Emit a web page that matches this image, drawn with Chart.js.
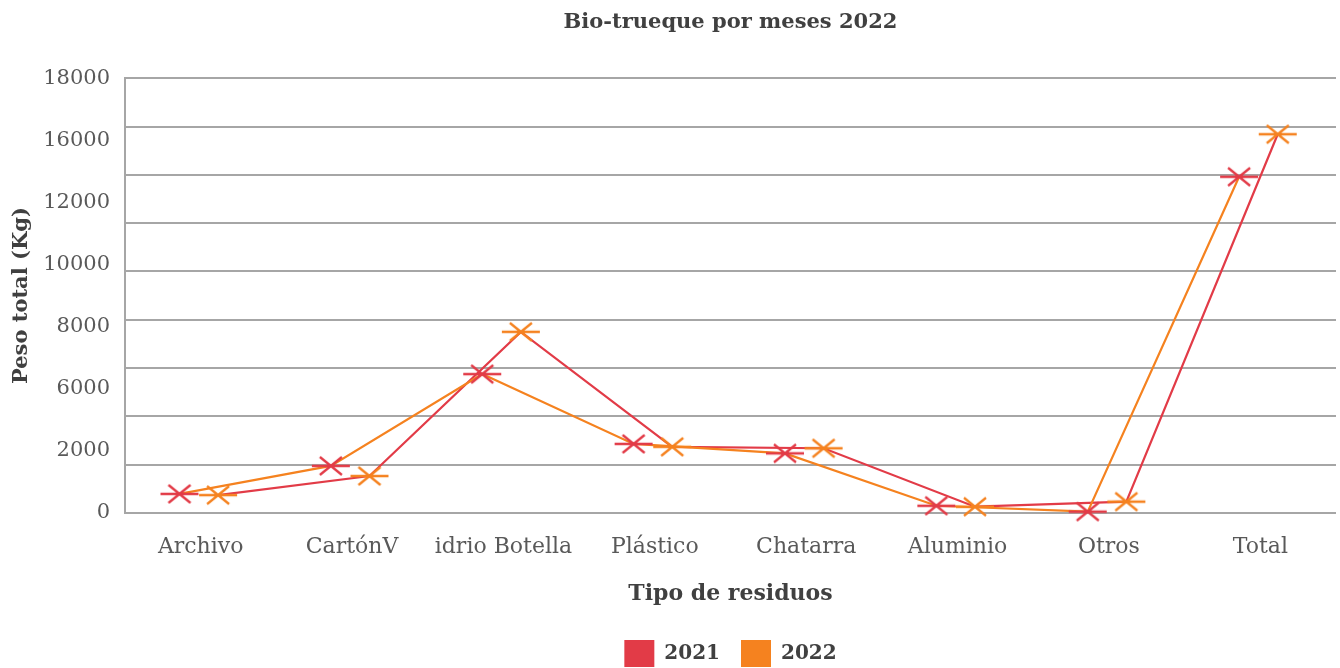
<!DOCTYPE html>
<html><head><meta charset="utf-8">
<script src="https://cdn.jsdelivr.net/npm/chart.js@4"></script>
<style>html,body{margin:0;padding:0;background:#fff}</style>
</head><body>
<canvas id="c" width="1340" height="668"></canvas>
<script>
const categories = ['Archivo','CartónV','idrio Botella','Plástico','Chatarra','Aluminio','Otros','Total'];
const values2021 = [790, 1950, 5750, 2860, 2470, 300, 55, 13920];
const values2022 = [740, 1530, 7500, 2740, 2680, 260, 470, 15680];
const yTickLabels = ['0','2000','6000','8000','10000','12000','16000','18000'];
const seriesNames = ['2021','2022'];

const RED = '#E23B47';
const ORANGE = '#F5821F';
const FAM = "'DejaVu Serif', serif";

function makeMarker(color){
  const c = document.createElement('canvas'); c.width = 40; c.height = 22;
  const g = c.getContext('2d'); g.strokeStyle = color; g.lineWidth = 2.3;
  g.beginPath();
  g.moveTo(1, 11); g.lineTo(39, 11);
  g.moveTo(9, 2); g.lineTo(31, 20);
  g.moveTo(31, 2); g.lineTo(9, 20);
  g.stroke();
  return c;
}

new Chart(document.getElementById('c'), {
  type: 'line',
  data: {
    datasets: [
      { label: seriesNames[0], data: values2021.map((v,i)=>({x: i - 0.14, y: v})),
        borderColor: ORANGE, backgroundColor: RED, borderWidth: 2.2, tension: 0, fill: false,
        pointStyle: makeMarker(RED), pointRadius: 1, pointBorderWidth: 0, clip: false, yAxisID: 'y' },
      { label: seriesNames[1], data: values2022.map((v,i)=>({x: i + 0.115, y: v})),
        borderColor: RED, backgroundColor: ORANGE, borderWidth: 2.2, tension: 0, fill: false,
        pointStyle: makeMarker(ORANGE), pointRadius: 1, pointBorderWidth: 0, clip: false, yAxisID: 'y' }
    ]
  },
  options: {
    responsive: false, animation: false, devicePixelRatio: 1,
    layout: { padding: { left: 9, right: 2, top: 0, bottom: -9 } },
    plugins: {
      tooltip: { enabled: false },
      title: { display: true, text: 'Bio-trueque por meses 2022', color: '#404040', fullSize: false,
        font: { family: FAM, size: 21, weight: 'bold' }, padding: { top: 10, bottom: 43 } },
      legend: { position: 'bottom', fullSize: false,
        labels: { boxWidth: 30, boxHeight: 27, padding: 21, color: '#404040',
          font: { family: FAM, size: 20, weight: 'bold' },
          generateLabels: chart => chart.data.datasets.map((ds, i) => ({
            text: ds.label, fillStyle: ds.backgroundColor, strokeStyle: ds.backgroundColor,
            lineWidth: 0, hidden: false, datasetIndex: i, fontColor: '#404040' })) } }
    },
    scales: {
      x: { type: 'linear', min: -0.5, max: 7.5,
        grid: { display: false }, border: { display: false },
        afterBuildTicks: s => { s.ticks = categories.map((_, i) => ({ value: i })); },
        afterFit: s => { s.height = 106; },
        ticks: { callback: v => categories[v] ?? '', color: '#595959', autoSkip: false, maxRotation: 0,
          font: { family: FAM, size: 22 }, padding: 13 },
        title: { display: true, text: 'Tipo de residuos', color: '#404040',
          font: { family: FAM, size: 22, weight: 'bold' }, padding: { top: 10, bottom: 12 } } },
      y: { type: 'linear', position: 'left', weight: 0, min: 0, max: 18000,
        ticks: { display: false, stepSize: 2000 },
        grid: { color: '#A6A6A6', lineWidth: 2, drawTicks: false },
        border: { display: true, color: '#A6A6A6', width: 2 } },
      y2: { type: 'linear', position: 'left', weight: 1, min: 0, max: 7,
        afterBuildTicks: s => { s.ticks = yTickLabels.map((_, i) => ({ value: i })); },
        afterFit: s => { s.width = 116; },
        ticks: { callback: v => yTickLabels[v], color: '#595959', font: { family: FAM, size: 21 }, padding: 15 },
        grid: { display: false, drawTicks: false }, border: { display: false },
        title: { display: true, text: 'Peso total (Kg)', color: '#404040',
          font: { family: FAM, size: 21, weight: 'bold' }, padding: { top: 0, bottom: 8 } } }
    }
  }
});
</script>
</body></html>
